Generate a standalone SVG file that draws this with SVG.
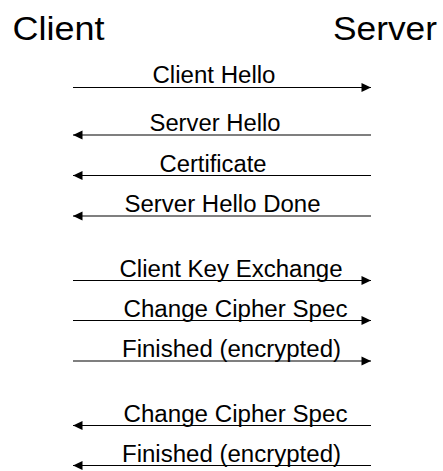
<svg xmlns="http://www.w3.org/2000/svg" width="443" height="471" viewBox="0 0 443 471">
<style>
.hdr{font-family:"Liberation Sans",Arial,sans-serif;font-size:34px;fill:#000}
.lbl{font-family:"Liberation Sans",Arial,sans-serif;font-size:23.5px;fill:#000}
.msg{stroke:#000;stroke-width:1.2;fill:none}
</style>
<defs>
<marker id="ah" markerWidth="10" markerHeight="10" refX="10" refY="5" orient="auto" markerUnits="userSpaceOnUse">
<path d="M0.5,0.5 L10,5 L0.5,9.5 Z" fill="#000"/>
</marker>
</defs>
<rect width="443" height="471" fill="#fff"/>
<g id="client"><text class="hdr" x="12.5" y="39.5" textLength="92" lengthAdjust="spacingAndGlyphs">Client</text></g>
<g id="server"><text class="hdr" x="333" y="39.5" textLength="104" lengthAdjust="spacingAndGlyphs">Server</text></g>
<g id="connectors">
<line class="msg" x1="73" y1="87.5" x2="371" y2="87.5" marker-end="url(#ah)"/>
<line class="msg" x1="371" y1="135" x2="73" y2="135" marker-end="url(#ah)"/>
<line class="msg" x1="371" y1="175.5" x2="73" y2="175.5" marker-end="url(#ah)"/>
<line class="msg" x1="371" y1="216" x2="73" y2="216" marker-end="url(#ah)"/>
<line class="msg" x1="73" y1="280.5" x2="371" y2="280.5" marker-end="url(#ah)"/>
<line class="msg" x1="73" y1="320.5" x2="371" y2="320.5" marker-end="url(#ah)"/>
<line class="msg" x1="73" y1="361" x2="371" y2="361" marker-end="url(#ah)"/>
<line class="msg" x1="371" y1="425.5" x2="73" y2="425.5" marker-end="url(#ah)"/>
<line class="msg" x1="371" y1="465.5" x2="73" y2="465.5" marker-end="url(#ah)"/>
</g>
<g id="lbl-client-hello"><text class="lbl" x="152.5" y="82.5" textLength="123" lengthAdjust="spacingAndGlyphs">Client Hello</text></g>
<g id="lbl-server-hello"><text class="lbl" x="149.5" y="131" textLength="131" lengthAdjust="spacingAndGlyphs">Server Hello</text></g>
<g id="lbl-certificate"><text class="lbl" x="159.5" y="172" textLength="107" lengthAdjust="spacingAndGlyphs">Certificate</text></g>
<g id="lbl-server-hello-done"><text class="lbl" x="124.5" y="212" textLength="196" lengthAdjust="spacingAndGlyphs">Server Hello Done</text></g>
<g id="lbl-client-key-exchange"><text class="lbl" x="119.5" y="276.5" textLength="223" lengthAdjust="spacingAndGlyphs">Client Key Exchange</text></g>
<g id="lbl-ccs-1"><text class="lbl" x="123.5" y="316.7" textLength="224" lengthAdjust="spacingAndGlyphs">Change Cipher Spec</text></g>
<g id="lbl-finished-1"><text class="lbl" x="122" y="357" textLength="219" lengthAdjust="spacingAndGlyphs">Finished (encrypted)</text></g>
<g id="lbl-ccs-2"><text class="lbl" x="123.5" y="421.5" textLength="224" lengthAdjust="spacingAndGlyphs">Change Cipher Spec</text></g>
<g id="lbl-finished-2"><text class="lbl" x="122" y="461.5" textLength="219" lengthAdjust="spacingAndGlyphs">Finished (encrypted)</text></g>
</svg>
